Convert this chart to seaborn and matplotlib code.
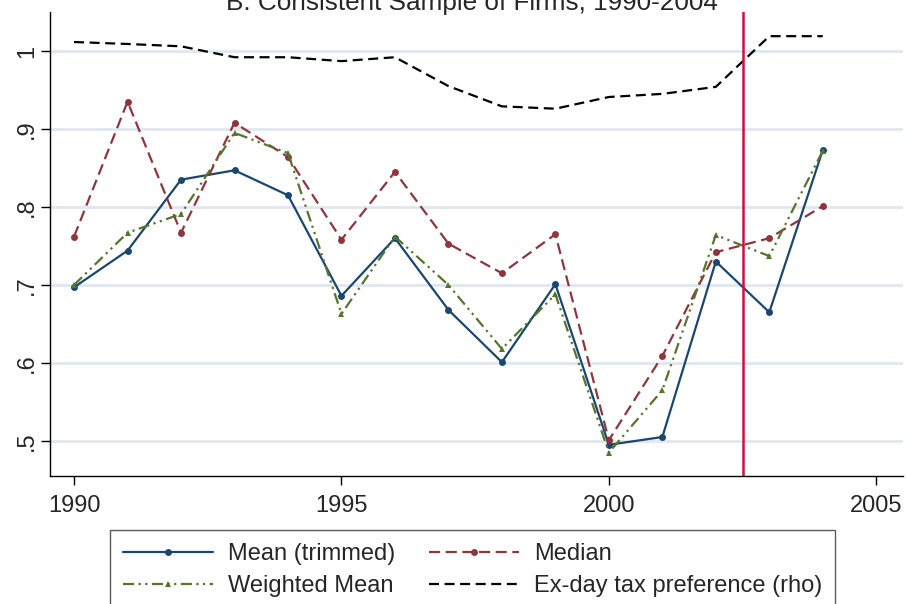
import matplotlib
matplotlib.use("Agg")
import matplotlib.pyplot as plt
import seaborn as sns
import pandas as pd

# data
years = list(range(1990, 2005))
mean_trimmed = [0.697, 0.744, 0.835, 0.847, 0.815, 0.686, 0.760, 0.668, 0.601, 0.701, 0.495, 0.505, 0.730, 0.665, 0.873]
median = [0.762, 0.935, 0.767, 0.908, 0.864, 0.758, 0.845, 0.753, 0.715, 0.765, 0.501, 0.609, 0.742, 0.760, 0.801]
weighted_mean = [0.700, 0.767, 0.791, 0.895, 0.869, 0.663, 0.762, 0.700, 0.618, 0.688, 0.485, 0.565, 0.764, 0.737, 0.872]
rho = [1.0115, 1.009, 1.006, 0.992, 0.992, 0.987, 0.992, 0.955, 0.929, 0.926, 0.941, 0.945, 0.954, 1.019, 1.019]
cutoff_year = 2002.5

sns.set_style("white")
plt.rcParams['font.family'] = ['Liberation Sans', 'DejaVu Sans']

df = pd.DataFrame({'year': years, 'mean': mean_trimmed, 'median': median,
                   'wmean': weighted_mean, 'rho': rho})

fig = plt.figure(figsize=(9.06, 6.04), dpi=100)
ax = fig.add_axes([50/906, 1 - 476/604, 853/906, 464/604])

for v in [0.5, 0.6, 0.7, 0.8, 0.9, 1.0]:
    ax.axhline(v, color='#e1e6f0', lw=2, zorder=0)

sns.lineplot(data=df, x='year', y='mean', ax=ax, color='#1a476f', lw=1.6,
             marker='o', markersize=5, markeredgewidth=0, label='Mean (trimmed)')
sns.lineplot(data=df, x='year', y='median', ax=ax, color='#90353b', lw=1.6,
             dashes=(5, 2.5), marker='o', markersize=5, markeredgewidth=0, label='Median')
sns.lineplot(data=df, x='year', y='wmean', ax=ax, color='#55752f', lw=1.6,
             dashes=(5, 2, 1, 2, 1, 2), marker='^', markersize=5, markeredgewidth=0,
             label='Weighted Mean')
sns.lineplot(data=df, x='year', y='rho', ax=ax, color='black', lw=1.6,
             dashes=(4.5, 2.5), label='Ex-day tax preference (rho)')

ax.axvline(cutoff_year, color='#d0103a', lw=1.8)

ax.set_xlim(1989.55, 2005.5)
ax.set_ylim(0.455, 1.05)
ax.set_xticks([1990, 1995, 2000, 2005])
ax.set_yticks([0.5, 0.6, 0.7, 0.8, 0.9, 1.0])
ax.set_yticklabels(['.5', '.6', '.7', '.8', '.9', '1'], rotation=90, va='center')
ax.tick_params(axis='both', labelsize=17, length=6.5, width=1, color='black',
               direction='out', left=True, bottom=True)
ax.tick_params(axis='x', pad=7)
ax.tick_params(axis='y', pad=2)
ax.set_xlabel('')
ax.set_ylabel('')
for s in ['top', 'right']:
    ax.spines[s].set_visible(False)
for s in ['left', 'bottom']:
    ax.spines[s].set_color('black')
    ax.spines[s].set_linewidth(1)

handles, labels = ax.get_legend_handles_labels()
ax.legend_.remove()
order = [0, 2, 1, 3]
leg = fig.legend([handles[i] for i in order], [labels[i] for i in order],
                 ncol=2, loc='upper left', bbox_to_anchor=(110/906, 1 - 530/604),
                 borderaxespad=0, fontsize=17, frameon=True, fancybox=False,
                 edgecolor='#333333', handlelength=3.8, handletextpad=0.64,
                 columnspacing=1.44, labelspacing=0.42, borderpad=0.55)
leg.get_frame().set_linewidth(1)

fig.text(472/906, 1 - 10/604, 'B. Consistent Sample of Firms, 1990-2004',
         ha='center', va='baseline', fontsize=18.8)

fig.savefig('out.png', dpi=100)
